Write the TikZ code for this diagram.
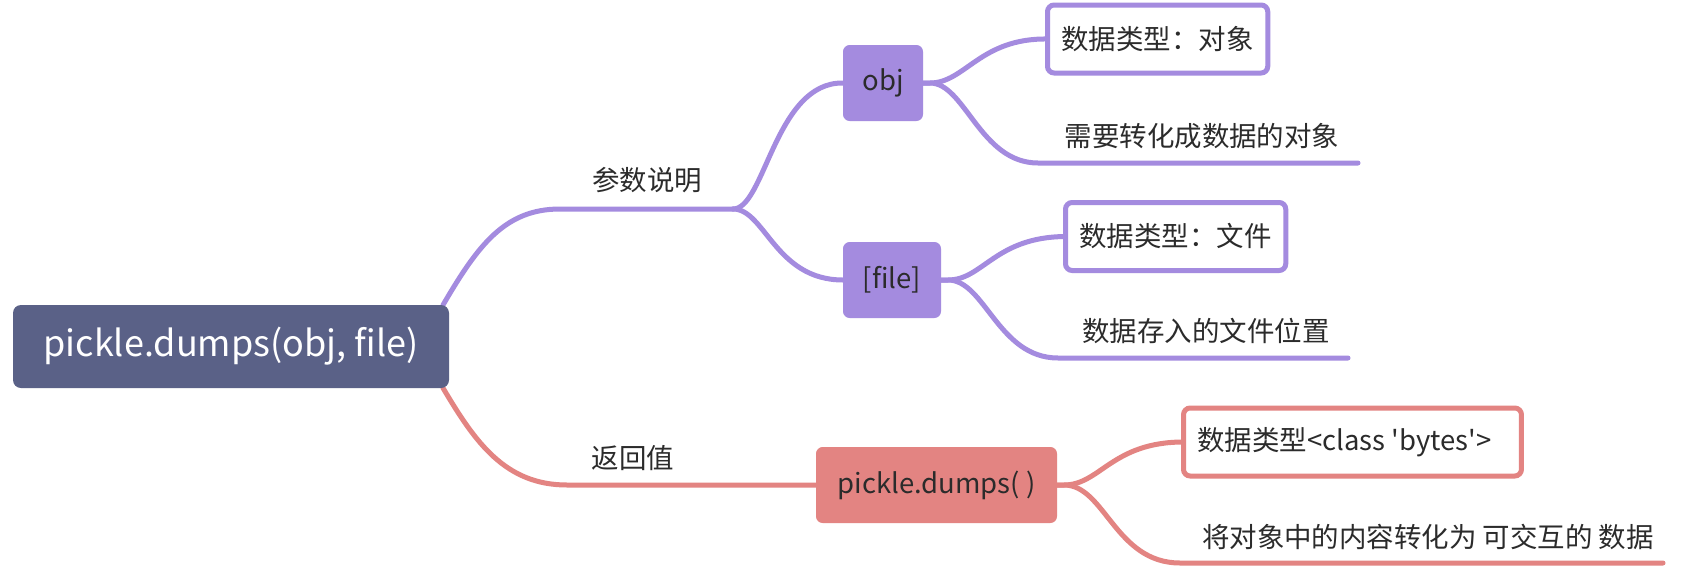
\documentclass[tikz,border=0pt]{standalone}
\usepackage{fontspec}
\setmainfont{Noto Sans CJK SC}[Ligatures=TeXOff]
\usetikzlibrary{backgrounds}
\definecolor{pur}{HTML}{A48BDF}
\definecolor{redc}{HTML}{E38482}
\definecolor{rootc}{HTML}{5A6187}
\definecolor{txt}{HTML}{2B2B2B}
\begin{document}
\begin{tikzpicture}[x=0.75pt,y=-0.75pt,
  conn/.style={line width=3.75pt, line cap=round},
  fnt/.style={font=\fontsize{20.6pt}{24pt}\selectfont, text=txt},
  rootbox/.style={fill=rootc, text=white, rounded corners=6pt, inner sep=0pt, outer sep=0pt,
    font=\fontsize{27pt}{32pt}\selectfont, minimum width=436*0.75pt, minimum height=83*0.75pt},
  subbox/.style={fnt, rounded corners=5pt, inner sep=0pt, outer sep=0pt, minimum height=76*0.75pt},
  leafbox/.style={fnt, draw, fill=white, line width=3.75pt, rounded corners=5pt, inner xsep=14*0.75pt,
    inner ysep=0pt, outer sep=0pt, minimum height=68*0.75pt, anchor=west},
  plain/.style={fnt, inner sep=0pt}]
\useasboundingbox (0,0) rectangle (1696,568);

\node[rootbox] (root) at (231,346.5) {pickle.dumps(obj, file)};
\node[subbox, fill=pur, minimum width=80*0.75pt] (obj) at (883,83) {obj};
\node[subbox, fill=pur, minimum width=98*0.75pt] (file) at (892,280) {[file]};
\node[subbox, fill=redc, minimum width=241*0.75pt] (pk) at (936.5,485) {pickle.dumps( )};

\node[leafbox, draw=pur] (b1) at (1047.5,39) {数据类型：对象};
\node[leafbox, draw=pur] (b2) at (1065.5,236.5) {数据类型：文件};
\node[leafbox, draw=redc] (b3) at (1183.5,442) {数据类型<class 'bytes'>\rule{12pt}{0pt}};

\node[plain] (t1) at (1202,136) {需要转化成数据的对象};
\node[plain] (t2) at (1206,331) {数据存入的文件位置};
\node[plain] (t3) at (1428,537) {将对象中的内容转化为 可交互的 数据};

\node[plain] (l1) at (647,180) {参数说明};
\node[plain] (l2) at (633,458) {返回值};

\coordinate (s1) at (733,209);
\coordinate (u1s) at (1038,163);
\coordinate (u1e) at (1358,163);
\coordinate (u2s) at (1058,358);
\coordinate (u2e) at (1348,358);
\coordinate (u3s) at (1180,563);
\coordinate (u3e) at (1663,563);

\begin{scope}[on background layer]
  \fill[white] (0,0) rectangle (1696,568);
  \draw[conn, draw=pur] ([xshift=-4.5pt]root.north east) .. controls (478,245) and (505,209) .. (560,209) -- (s1);
  \draw[conn, draw=pur] (s1) .. controls (765,209) and (775,82) .. (obj.west);
  \draw[conn, draw=pur] (s1) .. controls (765,209) and (775,280) .. (file.west);
  \draw[conn, draw=redc] ([xshift=-4.5pt]root.south east) .. controls (475,442) and (505,485) .. (567,485) -- (pk.west);

  \draw[conn, draw=pur] (obj.east) -- ++(7,0) .. controls (965,83) and (980,38) .. (b1.west);
  \draw[conn, draw=pur] (obj.east) -- ++(7,0) .. controls (965,83) and (980,163) .. (u1s) -- (u1e);
  \draw[conn, draw=pur] (file.east) -- ++(7,0) .. controls (983,280) and (995,237) .. (b2.west);
  \draw[conn, draw=pur] (file.east) -- ++(7,0) .. controls (985,280) and (998,358) .. (u2s) -- (u2e);
  \draw[conn, draw=redc] (pk.east) -- ++(7,0) .. controls (1100,485) and (1112,442) .. (b3.west);
  \draw[conn, draw=redc] (pk.east) -- ++(7,0) .. controls (1105,485) and (1115,563) .. (u3s) -- (u3e);
\end{scope}
\end{tikzpicture}
\end{document}
